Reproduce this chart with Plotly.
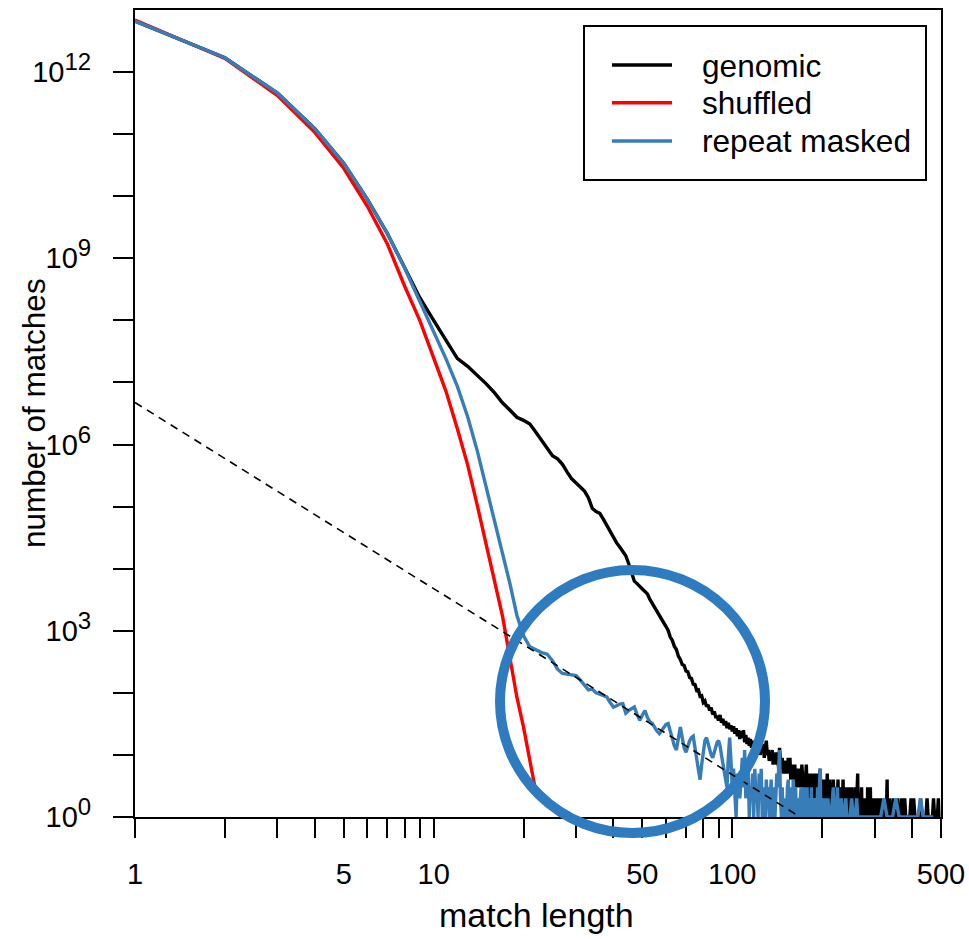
import plotly.graph_objects as go

# ---------------- data ----------------
# genomic: counts for match lengths 1..200 (every length observed)
genomic_counts_1_200 = [
    6.61e12, 1.70e12, 4.57e11, 1.23e11, 3.39e10, 8.91e9, 2.51e9, 7.2e8, 2.3e8, 1.0e8,
    4.9e7, 2.45e7, 1.82e7, 1.32e7, 9.5e6, 6.8e6, 4.7e6, 3.6e6, 2.75e6, 2.45e6,
    2.14e6, 1.58e6, 1.15e6, 8.5e5, 6.6e5, 5.9e5, 4.8e5, 3.6e5, 2.8e5, 2.4e5,
    2.1e5, 1.78e5, 1.38e5, 9.3e4, 8.3e4, 7.8e4, 6.3e4, 5.0e4, 3.9e4, 3.1e4,
    2.6e4, 2.24e4, 1.9e4, 1.62e4, 1.2e4, 8.3e3, 6.3e3, 5.75e3, 5.1e3, 4.7e3,
    4.3e3, 3.9e3, 3.2e3, 2.75e3, 2.4e3, 2.1e3, 1.86e3, 1.62e3, 1.41e3, 1.17e3,
    1010, 790, 700, 560, 500, 390, 345, 285, 275, 225,
    218, 176, 170, 138, 136, 110, 112, 88, 90, 70,
    74, 60, 64, 52, 58, 45, 50, 41, 41, 36,
    44, 33, 38, 30, 35, 27, 33, 26, 30, 24,
    29, 22, 27, 20, 25, 18, 24, 19, 25, 16,
    21, 15, 19, 14, 18, 13, 17, 12, 16, 13,
    15, 11, 14, 10, 13, 11, 15, 9, 12, 17,
    10, 12, 8, 11, 9, 12, 7, 10, 8, 11,
    7, 9, 6, 13, 8, 6, 9, 5, 8, 7,
    5, 8, 6, 9, 5, 9, 4, 7, 5, 6,
    4, 7, 3, 6, 5, 3, 6, 4, 5, 3,
    7, 4, 3, 5, 2, 4, 7, 3, 5, 2,
    4, 3, 5, 2, 4, 3, 2, 5, 3, 2,
    4, 3, 5, 2, 3, 4, 6, 2, 3, 4,
]
# genomic: counts for lengths 201..300 (0 = length not observed)
genomic_counts_201_300 = [
    3, 2, 4, 1, 3, 2, 2, 5, 1, 3,
    2, 4, 1, 2, 3, 1, 2, 4, 2, 1,
    3, 2, 1, 3, 2, 4, 1, 2, 3, 1,
    2, 1, 3, 2, 4, 1, 2, 0, 3, 1,
    2, 1, 3, 0, 2, 1, 3, 1, 2, 0,
    1, 3, 1, 2, 1, 0, 2, 1, 3, 1,
    2, 4, 5, 1, 2, 0, 1, 2, 1, 0,
    3, 1, 1, 2, 0, 1, 2, 1, 0, 1,
    2, 0, 1, 3, 1, 0, 2, 1, 2, 3,
    1, 0, 1, 2, 0, 1, 1, 2, 0, 1,
]
# genomic: sparse tail (observed lengths only)
genomic_tail_len = [302, 303, 305, 307, 308, 310, 312, 314, 316, 318, 321, 323, 325, 327, 329,
                    330, 331, 334, 336, 338, 341, 343, 346, 348, 351, 354, 357, 359, 362, 365,
                    368, 371, 374, 378, 381, 385, 389, 393, 397, 401, 405, 409, 414, 419, 423,
                    427, 431, 436, 441, 445, 449, 453, 458, 463, 468, 472, 476, 481, 486, 490, 492]
genomic_tail_count = [1, 2, 1, 1, 2, 1, 1, 2, 1, 1, 1, 2, 1, 1, 2,
                      4, 1, 1, 2, 1, 1, 1, 2, 1, 1, 1, 2, 1, 1, 1,
                      2, 1, 1, 2, 1, 1, 1, 1, 2, 1, 2, 1, 1, 1, 1,
                      2, 1, 1, 1, 1, 2, 1, 1, 1, 1, 2, 1, 1, 1, 2, 1]

# shuffled: counts for lengths 1..22
shuffled_counts = [6.9e12, 1.66e12, 4.17e11, 1.07e11, 2.82e10, 6.9e9, 1.7e9, 3.55e8, 9.8e7, 2.4e7,
                   7.2e6, 1.82e6, 4.7e5, 1.05e5, 2.34e4, 5.75e3, 1.74e3, 372, 85, 28,
                   7.8, 2.5]

# repeat masked: counts for lengths 1..200 (0 = not observed)
masked_counts_1_200 = [
    6.61e12, 1.70e12, 4.57e11, 1.23e11, 3.39e10, 8.91e9, 2.51e9, 6.9e8, 2.0e8, 6.6e7,
    2.4e7, 8.7e6, 2.8e6, 7.9e5, 2.1e5, 5.8e4, 1.86e4, 5.8e3, 1.78e3, 830,
    550, 490, 445, 420, 330, 240, 205, 200, 195, 190,
    160, 130, 112, 115, 100, 95, 90, 86, 70, 59,
    62, 66, 67, 47, 52, 56, 59, 45, 36, 44,
    52, 40, 34, 32, 27, 24, 22, 25, 28, 31,
    32, 24, 18, 14, 12, 20, 28, 19, 13, 11,
    14, 17, 19, 20, 13, 9, 6, 4, 7, 12,
    17, 19, 15, 12, 10, 9, 11, 14, 16, 17,
    14, 10, 7, 5, 4, 3, 9, 19, 8, 3,
    6, 2, 1, 5, 3, 2, 4, 9, 3, 12,
    2, 4, 7, 1, 3, 2, 5, 1, 6, 2,
    3, 1, 5, 2, 6, 1, 3, 2, 1, 4,
    2, 3, 1, 2, 4, 1, 2, 3, 1, 2,
    5, 3, 8, 12, 2, 1, 3, 1, 2, 1,
    2, 1, 3, 4, 1, 2, 3, 1, 1, 4,
    2, 1, 3, 1, 0, 2, 1, 1, 2, 3,
    1, 2, 1, 3, 1, 0, 2, 3, 1, 1,
    0, 2, 1, 3, 1, 0, 2, 1, 1, 0,
    2, 1, 3, 1, 2, 4, 6, 1, 0, 2,
]
masked_tail_len = [202, 204, 205, 207, 209, 211, 214, 216, 218, 219, 221, 223, 225, 227, 229,
                   232, 234, 237, 240, 242, 245, 248, 251, 254, 258, 261, 263, 267, 271, 275,
                   279, 284, 289, 293, 298, 304, 309, 314, 322, 330, 337, 344, 353, 362, 370,
                   381, 392, 404, 418, 427, 436, 449, 461, 471]
masked_tail_count = [1, 2, 1, 1, 2, 1, 1, 2, 3, 1, 2, 1, 3, 1, 1,
                     2, 1, 1, 2, 1, 1, 1, 2, 1, 1, 2, 1, 1, 1, 1,
                     1, 1, 1, 1, 1, 1, 1, 1, 2, 1, 1, 1, 2, 1, 1,
                     1, 1, 1, 1, 2, 1, 1, 1, 1]

# fitted power-law reference line (end points)
fit_len = [1, 165]
fit_count = [4.75e6, 1.07]

x_major = [1, 5, 10, 50, 100, 500]
x_major_labels = ["1", "5", "10", "50", "100", "500"]
x_minor = [2, 3, 4, 6, 7, 8, 9, 20, 30, 40, 60, 70, 80, 90, 200, 300, 400]
y_major_exp = [0, 3, 6, 9, 12]
y_minor_exp = [1, 2, 4, 5, 7, 8, 10, 11]
legend_names = ["genomic", "shuffled", "repeat masked"]

# ---------------- assemble series ----------------
def observed(lengths, counts):
    xs, ys = [], []
    for L_, c in zip(lengths, counts):
        if c > 0:
            xs.append(L_)
            ys.append(c)
    return xs, ys

gx, gy = observed(list(range(1, 201)) + list(range(201, 301)) + genomic_tail_len,
                  genomic_counts_1_200 + genomic_counts_201_300 + genomic_tail_count)
sx, sy = observed(list(range(1, len(shuffled_counts) + 1)), shuffled_counts)
mx, my = observed(list(range(1, 201)) + masked_tail_len, masked_counts_1_200 + masked_tail_count)

BLACK = "#000000"
RED = "#FF0000"
BLUE = "#377EB8"
CIRCLE = "#2E7BBF"
FONT = "Liberation Sans, Arial, Helvetica, sans-serif"
LW = 3.4

fig = go.Figure()
fig.add_trace(go.Scatter(x=gx, y=gy, mode="lines", line=dict(color=BLACK, width=LW), name=legend_names[0]))
fig.add_trace(go.Scatter(x=sx, y=sy, mode="lines", line=dict(color=RED, width=LW), name=legend_names[1]))
fig.add_trace(go.Scatter(x=mx, y=my, mode="lines", line=dict(color=BLUE, width=LW), name=legend_names[2]))
fig.add_trace(go.Scatter(x=fit_len, y=fit_count, mode="lines",
                         line=dict(color=BLACK, width=1.6, dash="8px,6px"), name="fit"))

# plot area in pixels: left 135, right 941, top 10, bottom 817
L, R, T, B = 135, 941, 10, 817
W, H = R - L, B - T
def px(xp):
    return (xp - L) / W
def py(yp):
    return (B - yp) / H

shapes = []
annotations = []
# highlight circle
shapes.append(dict(type="circle", xref="paper", yref="paper",
                   x0=px(500), x1=px(765), y0=py(833), y1=py(570),
                   line=dict(color=CIRCLE, width=10), layer="above"))
# legend box
shapes.append(dict(type="rect", xref="paper", yref="paper",
                   x0=px(584), x1=px(926), y0=py(180), y1=py(26),
                   line=dict(color=BLACK, width=2), fillcolor="white", layer="above"))
leg_y = [65, 102.7, 141]
for name, col, yy in zip(legend_names, [BLACK, RED, BLUE], leg_y):
    shapes.append(dict(type="line", xref="paper", yref="paper",
                       x0=px(612), x1=px(672), y0=py(yy), y1=py(yy),
                       line=dict(color=col, width=3.4), layer="above"))
    annotations.append(dict(text=name, xref="paper", yref="paper", x=px(700), y=py(yy + 0.5),
                            xanchor="left", yanchor="middle", showarrow=False,
                            font=dict(size=31.6, color=BLACK, family=FONT)))
# axis titles
annotations.append(dict(text="match length", xref="paper", yref="paper", x=px(536), y=py(915),
                        xanchor="center", yanchor="middle", showarrow=False,
                        font=dict(size=34, color=BLACK, family=FONT)))
annotations.append(dict(text="number of matches", xref="paper", yref="paper", x=px(34), y=py(413),
                        xanchor="center", yanchor="middle", showarrow=False, textangle=-90,
                        font=dict(size=31.5, color=BLACK, family=FONT)))

fig.update_layout(
    width=969, height=939,
    margin=dict(l=L, r=969 - R, t=T, b=939 - B, pad=0, autoexpand=False),
    paper_bgcolor="white", plot_bgcolor="white",
    showlegend=False,
    font=dict(family=FONT, color=BLACK),
    shapes=shapes, annotations=annotations,
)
fig.update_xaxes(type="log", range=[0, 2.69897], tickmode="array", tickvals=x_major,
                 ticktext=x_major_labels, automargin=False,
                 ticks="outside", ticklen=19, tickwidth=2, tickcolor=BLACK,
                 minor=dict(tickmode="array", tickvals=x_minor, ticks="outside", ticklen=19,
                            tickwidth=2, tickcolor=BLACK, showgrid=False),
                 showline=True, linecolor=BLACK, linewidth=2, mirror=True,
                 showgrid=False, zeroline=False, tickfont=dict(size=29, family=FONT, color=BLACK),
                 ticklabelstandoff=11, layer="below traces")
fig.update_yaxes(type="log", range=[0, 13], tickmode="array",
                 tickvals=[10 ** e for e in y_major_exp],
                 ticktext=["10<sup><span style='font-size:24px'>%d</span></sup>" % e for e in y_major_exp],
                 automargin=False,
                 ticks="outside", ticklen=20, tickwidth=2, tickcolor=BLACK,
                 minor=dict(tickmode="array", tickvals=[10 ** e for e in y_minor_exp], ticks="outside",
                            ticklen=20, tickwidth=2, tickcolor=BLACK, showgrid=False),
                 showline=True, linecolor=BLACK, linewidth=2, mirror=True,
                 showgrid=False, zeroline=False, tickfont=dict(size=29, family=FONT, color=BLACK),
                 ticklabelstandoff=16, layer="below traces")

fig.write_html("out.html")
